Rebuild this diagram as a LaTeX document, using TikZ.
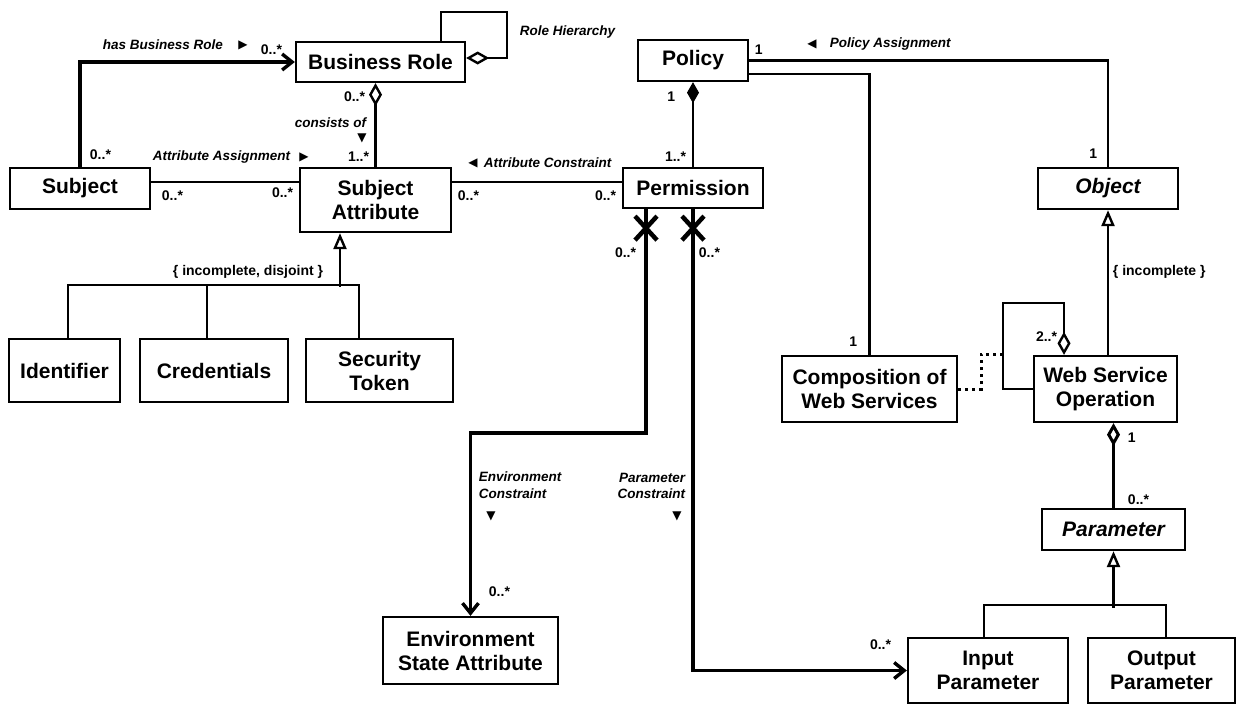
\documentclass[tikz,border=0pt]{standalone}
\usepackage{fontspec}
\setmainfont{Liberation Sans}
\newfontfamily\symfont{DejaVu Sans}
\usetikzlibrary{calc}
\usetikzlibrary{arrows.meta}

\begin{document}
\begin{tikzpicture}[x=1pt,y=1pt,yscale=-1,xscale=1,
    cls/.style={draw, line width=2.3pt, fill=white, inner sep=0pt, align=center, font=\bfseries\fontsize{21}{24}\selectfont},
    lbl/.style={inner sep=0.75pt, font=\bfseries\itshape\fontsize{13.5}{16.5}\selectfont},
    mult/.style={inner sep=0.75pt, font=\bfseries\fontsize{14}{16}\selectfont},
    tri/.style={inner sep=0pt, font=\symfont\fontsize{12}{12}\selectfont},
    assoc/.style={line width=2.4pt},
    nav/.style={line width=3.4pt},
    xmark/.style={line width=4.5pt},
    dots/.style={line width=3pt, dash pattern=on 3pt off 4pt},
    aggtip/.style={{Diamond[open,length=23pt,width=13pt]}-},
    comptip/.style={{Diamond[length=21pt,width=12pt]}-},
    gentip/.style={{Triangle[open,length=16pt,width=13pt]}-},
    navtip/.style={-{Straight Barb[length=10pt,width=16pt]}}]
    \useasboundingbox (0,0) rectangle (1238,704);

    %Shape: Class Rectangles
    \node (brole) at (380.5,62) [cls, minimum width=169pt, minimum height=40pt] {Business Role};
    \node (subj) at (80,188.5) [cls, minimum width=140pt, minimum height=41pt] {Subject};
    \node (sattr) at (375.5,200) [cls, minimum width=151pt, minimum height=64pt] {Subject\\Attribute};
    \node (policy) at (693,60.5) [cls, minimum width=110pt, minimum height=41pt] {Policy};
    \node (perm) at (693,188) [cls, minimum width=140pt, minimum height=40pt] {Permission};
    \node (object) at (1108,188.5) [cls, minimum width=140pt, minimum height=41pt] {\itshape Object};
    \node (ident) at (64.5,370.5) [cls, minimum width=111pt, minimum height=63pt] {Identifier};
    \node (cred) at (214,370.5) [cls, minimum width=148pt, minimum height=63pt] {Credentials};
    \node (sectok) at (379.5,370.5) [cls, minimum width=147pt, minimum height=63pt] {Security\\Token};
    \node (comp) at (869.5,389) [cls, minimum width=175pt, minimum height=66pt] {Composition of\\Web Services};
    \node (wso) at (1105.5,389) [cls, minimum width=143pt, minimum height=66pt] {Web Service\\Operation};
    \node (param) at (1113.5,529.5) [cls, minimum width=143pt, minimum height=41pt] {\itshape Parameter};
    \node (input) at (988,670.5) [cls, minimum width=160pt, minimum height=65pt] {Input\\Parameter};
    \node (output) at (1161.5,670.5) [cls, minimum width=147pt, minimum height=65pt] {Output\\Parameter};
    \node (env) at (470.5,650.5) [cls, minimum width=175pt, minimum height=67pt] {Environment\\State Attribute};

    %Straight Lines
    \coordinate (rowA) at (0,182);
    \coordinate (loopC) at (1003,303);
    \coordinate (dotC) at (1003,354);
    \draw [nav, navtip] (subj.north) |- (brole.west);
    \draw [assoc, aggtip] ($(brole.east)+(0,-4)$) -| ++(41,-46) -| ($(brole.north)+(60.5,0)$);
    \draw [assoc, aggtip] (brole.south -| sattr.north) -- (sattr.north);
    \draw [assoc] (subj.east |- rowA) -- (sattr.west |- rowA);
    \draw [assoc] (sattr.east |- rowA) -- (perm.west |- rowA);
    \draw [assoc, comptip] (policy.south) -- (perm.north);
    \draw [assoc] (policy.east) -| (object.north);
    \draw [assoc] ($(policy.east)+(0,13.5)$) -| (comp.north);
    \draw [assoc, gentip] (object.south) -- (object.south |- wso.north);
    \draw [assoc, aggtip] ($(wso.north)+(-41.5,0)$) |- (loopC) |- (wso.west);
    \draw [dots] (comp.east) -- ++(23,0) |- (dotC);
    \draw [assoc, aggtip, line width=3pt] (wso.south -| param.north) -- (param.north);
    \draw [assoc, gentip] (param.south) -- ++(0,56.5);
    \draw [assoc] ($(input.north)+(-4,0)$) -- ++(0,-32) -| ($(output.north)+(4.5,0)$);
    \draw [assoc, gentip] ($(sattr.south)+(-35.5,0)$) -- ++(0,54);
    \draw [assoc] ($(ident.north)+(3.5,0)$) -- ++(0,-53) -| ($(sectok.north)+(-20.5,0)$);
    \draw [assoc] ($(cred.north)+(-7,0)$) -- ++(0,-53);
    \draw [nav, navtip] ($(perm.south)+(-47,0)$) -- ++(0,224) -| (env.north);
    \draw [nav, navtip] (perm.south) |- (input.west);
    \draw [xmark] ($(perm.south)+(-58,7)$) -- ++(22,24) ++(0,-24) -- ++(-22,24);
    \draw [xmark] ($(perm.south)+(-11,7)$) -- ++(22,24) ++(0,-24) -- ++(-22,24);

    % Text Node
    \node (lHBR) at (102,45) [lbl, anchor=west] {has Business Role};
    \node (tHBR) at (243,45) [tri] {▶};
    \node (mHBR) at (260,50) [mult, anchor=west] {0..*};
    \node (mSub) at (89,155) [mult, anchor=west] {0..*};
    \node (lRH) at (519,32) [lbl, anchor=west] {Role Hierarchy};
    \node (mBR) at (366,97) [mult, anchor=east] {0..*};
    \node (lCO) at (367,123) [lbl, anchor=east] {consists of};
    \node (tCO) at (362,138) [tri] {▼};
    \node (mSA) at (370,157) [mult, anchor=east] {1..*};
    \node (lAA) at (152,157) [lbl, anchor=west] {Attribute Assignment};
    \node (tAA) at (304,157) [tri] {▶};
    \node (mAA1) at (161,196) [mult, anchor=west] {0..*};
    \node (mAA2) at (294,193) [mult, anchor=east] {0..*};
    \node (mAC1) at (457,196) [mult, anchor=west] {0..*};
    \node (mAC2) at (617,196) [mult, anchor=east] {0..*};
    \node (tAC) at (473,163) [tri] {◀};
    \node (lAC) at (483,163) [lbl, anchor=west] {Attribute Constraint};
    \node (mPo) at (676,97) [mult, anchor=east] {1};
    \node (mPe) at (687,157) [mult, anchor=east] {1..*};
    \node (mPA1) at (754,50) [mult, anchor=west] {1};
    \node (tPA) at (812,44) [tri] {◀};
    \node (lPA) at (829,44) [lbl, anchor=west] {Policy Assignment};
    \node (mPA2) at (1098,154) [mult, anchor=east] {1};
    \node (cInc) at (1112,272) [mult, anchor=west] {\{ incomplete \}};
    \node (cIncD) at (248,272) [mult] {\{ incomplete, disjoint \}};
    \node (mCo) at (858,342) [mult, anchor=east] {1};
    \node (mLoop) at (1058,337) [mult, anchor=east] {2..*};
    \node (mWP1) at (1127,438) [mult, anchor=west] {1};
    \node (mWP2) at (1127,500) [mult, anchor=west] {0..*};
    \node (mIn) at (892,645) [mult, anchor=east] {0..*};
    \node (mEnv) at (488,592) [mult, anchor=west] {0..*};
    \node (lEC) at (478,485) [lbl, anchor=west, align=left] {Environment\\Constraint};
    \node (tEC) at (491,516) [tri] {▼};
    \node (lPC) at (686,486) [lbl, anchor=east, align=right] {Parameter\\Constraint};
    \node (tPC) at (677,516) [tri] {▼};
    \node (mX1) at (637,253) [mult, anchor=east] {0..*};
    \node (mX2) at (698,253) [mult, anchor=west] {0..*};

\end{tikzpicture}
\end{document}
